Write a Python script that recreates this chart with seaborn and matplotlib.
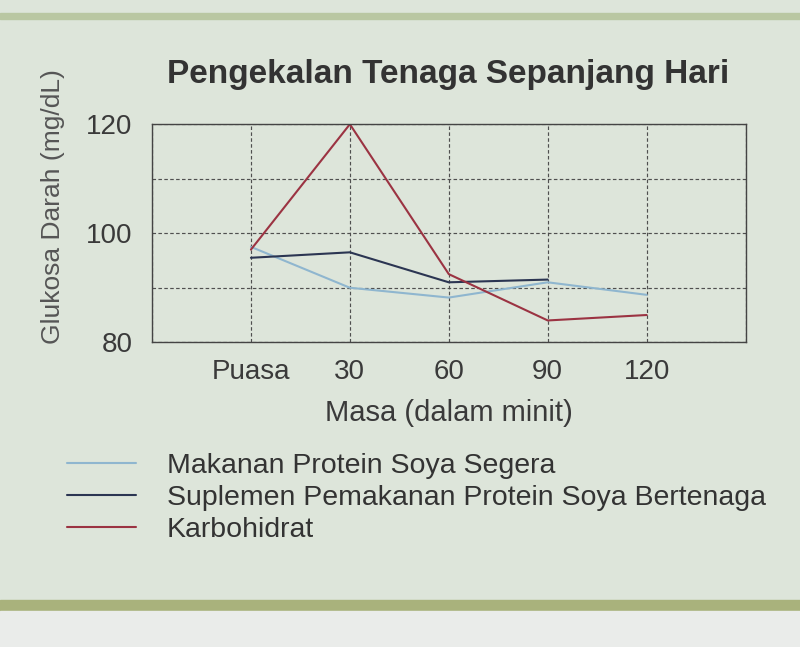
import matplotlib
matplotlib.use("Agg")
import matplotlib.pyplot as plt
import seaborn as sns
import pandas as pd
from matplotlib.patches import Rectangle
from matplotlib.lines import Line2D

categories = ["Puasa", "30", "60", "90", "120"]
makanan = [97.5, 90, 88.2, 91, 88.7]
suplemen = [95.5, 96.5, 91, 91.5]
karbohidrat = [97, 120, 92.5, 84, 85]
series_names = ["Makanan Protein Soya Segera",
                "Suplemen Pemakanan Protein Soya Bertenaga",
                "Karbohidrat"]
colors = ["#8fb6cf", "#2b3552", "#9b3342"]

rows = []
for name, vals in zip(series_names, [makanan, suplemen, karbohidrat]):
    for i, v in enumerate(vals):
        rows.append({"pos": i, "val": v, "series": name})
df = pd.DataFrame(rows)

sns.set_theme(style="white")
plt.rcParams["font.family"] = ["Liberation Sans", "DejaVu Sans"]
bg = "#dde5da"
fig = plt.figure(figsize=(8, 6.47), dpi=100, facecolor=bg)
ax = fig.add_axes([0.19, 0.471, 0.742, 0.337])
ax.set_facecolor(bg)

sns.lineplot(data=df, x="pos", y="val", hue="series", hue_order=series_names,
             palette=colors, ax=ax, linewidth=1.5, legend=False, sort=False)

ax.set_xlim(-1, 5)
ax.set_ylim(80, 120)
ax.set_xticks(range(len(categories)))
ax.set_xticklabels(categories)
ax.set_yticks([80, 100, 120])
ax.set_xticks([-1, 5], minor=True)
ax.set_yticks([90, 110], minor=True)
ax.grid(which="both", color="#4f4f4f", linestyle=(0, (3, 2)), linewidth=0.85)
ax.set_axisbelow(True)
ax.tick_params(axis="both", which="both", length=0, labelsize=20,
               labelcolor="#3a3a3a")
ax.tick_params(axis="y", pad=14)
ax.tick_params(axis="x", pad=12)
for s in ax.spines.values():
    s.set_color("#444444")
    s.set_linewidth(1.0)
ax.set_xlabel("Masa (dalam minit)", fontsize=21, color="#3a3a3a", labelpad=10)
ax.set_ylabel("")
fig.text(0.066, 0.68, "Glukosa Darah (mg/dL)", rotation=90, fontsize=19,
         color="#555555", ha="center", va="center")
fig.text(0.56, 0.885, "Pengekalan Tenaga Sepanjang Hari", fontsize=24,
         fontweight="bold", color="#333333", ha="center", va="center")

handles = [Line2D([], [], color=c, linewidth=1.5) for c in colors]
fig.legend(handles, series_names, loc="upper left", bbox_to_anchor=(0.07, 0.318),
           frameon=False, fontsize=20.5, handlelength=2.4, handletextpad=1.1,
           labelspacing=0.22, labelcolor="#333333", borderaxespad=0)

# page edges of the photographed card
fig.patches.append(Rectangle((0, 0.97), 1, 0.01, transform=fig.transFigure,
                             color="#b9c7a2", zorder=0))
fig.patches.append(Rectangle((0, 0.055), 1, 0.018, transform=fig.transFigure,
                             color="#a9b27c", zorder=0))
fig.patches.append(Rectangle((0, 0), 1, 0.055, transform=fig.transFigure,
                             color="#eaecea", zorder=0))

fig.savefig("out.png", dpi=100, facecolor=bg)
